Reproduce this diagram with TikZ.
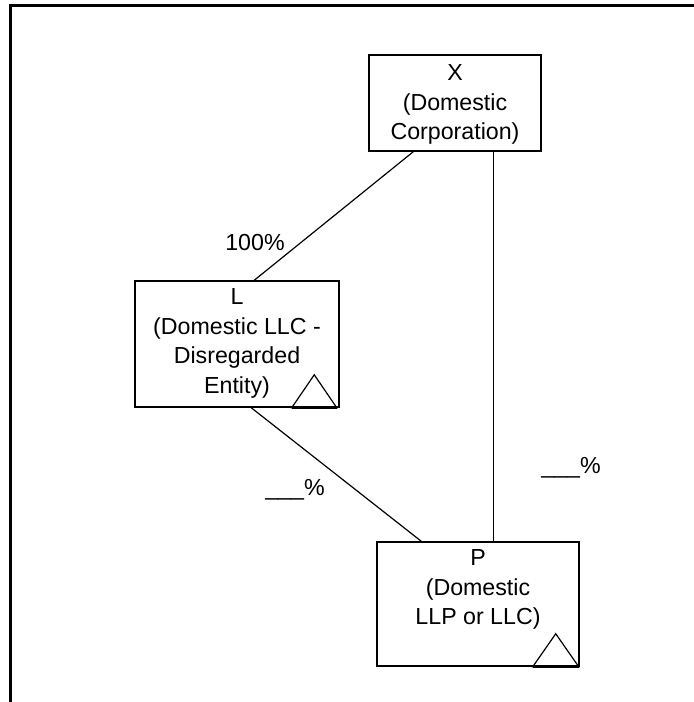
\documentclass[tikz,border=0pt]{standalone}
\usepackage{fontspec}
\setmainfont{Liberation Sans}
\usetikzlibrary{positioning,calc}

\begin{document}
\begin{tikzpicture}[x=0.5pt,y=-0.5pt,
        entity/.style={draw, line width=0.75pt, inner sep=0pt},
        caption/.style={align=center, anchor=north, inner sep=0pt, font=\fontsize{11.6}{14.75}\selectfont},
        share/.style={inner sep=0pt, font=\fontsize{11.6}{14}\selectfont},
        link/.style={line width=0.6pt}
    ]
    \useasboundingbox (0,0) rectangle (694,702);
    \draw[line width=1.5pt] (10.5,702) |- (694,5.5);
    % the three entities
    \node[entity, minimum width=86pt, minimum height=48pt] (X) at (455,103) {};
    \node[entity, minimum width=102pt, minimum height=63pt] (L) at (237,344) {};
    \node[entity, minimum width=101pt, minimum height=62pt] (P) at (478,604) {};
    \node[caption] (Xtext) at ($(X.north)+(0,10)$) {X\\(Domestic\\Corporation)};
    \node[caption] (Ltext) at ($(L.north)+(0,8)$) {L\\(Domestic LLC -\\Disregarded\\Entity)};
    \node[caption] (Ptext) at ($(P.north)+(0,8)$) {P\\(Domestic\\LLP or LLC)};
    % partnership marks
    \foreach \ent/\gap/\wd in {L/3/45, P/1/46} {
        \draw[link] ($(\ent.south east)+(-\gap,0)$) -- ++(-\wd,0) -- ++(\wd/2,-33) -- cycle;
        \draw[line width=1pt] ($(\ent.south east)+(-\gap,0)$) -- ++(-\wd,0);
    }
    % ownership lines
    \draw[link] ($(X.south west)+(45,0)$) -- ($(L.north west)+(120,0)$);
    \draw[link] ($(X.south west)+(125,0)$) -- ($(P.north west)+(117,0)$);
    \draw[link] ($(L.south west)+(117,0)$) -- ($(P.north west)+(45,0)$);
    \node[share] (LX) at (255,243) {100\%};
    \node[share] (PL) at (295,490) {\_\_\_\%};
    \node[share] (PX) at (571,468) {\_\_\_\%};
\end{tikzpicture}
\end{document}
